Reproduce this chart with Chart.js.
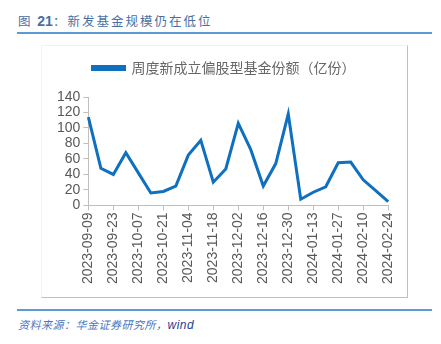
<!DOCTYPE html>
<html>
<head>
<meta charset="utf-8">
<script src="https://cdn.jsdelivr.net/npm/chart.js@4.4.1/dist/chart.umd.min.js"></script>
<style>
  html, body { margin: 0; padding: 0; background: #fff; }
  body { width: 441px; height: 344px; position: relative; overflow: hidden; }
  .title {
    position: absolute; left: 18px; top: 11px;
    font: 12.5px "Noto Sans CJK SC", sans-serif; color: #4a6f9f; letter-spacing: 2px;
  }
  .rule { position: absolute; left: 17px; width: 415px; height: 2px; background: #5b9bd5; }
  .frame {
    position: absolute; left: 41px; top: 45px; width: 365px; height: 251px;
    border-left: 1px solid #f2f2f2; border-top: 1px solid #f2f2f2;
    border-right: 1px solid #bfbfbf; border-bottom: 1px solid #bfbfbf;
  }
  .src {
    position: absolute; left: 18px; top: 316px;
    font: italic 11px "Noto Sans CJK SC", sans-serif; color: #4a76c0; letter-spacing: 0.5px;
  }
  #c { position: absolute; left: 42px; top: 46px; }
</style>
</head>
<body>
<div class="title">图 <b style="font-family:'Liberation Sans',sans-serif;font-size:14px;letter-spacing:0">21</b>：新发基金规模仍在低位</div>
<div class="rule" style="top:32px"></div>
<div class="frame"></div>
<canvas id="c" width="365" height="251"></canvas>
<div class="rule" style="top:309px"></div>
<div class="src">资料来源：华金证券研究所，<span style="font-family:'Liberation Sans',sans-serif;font-size:12px;color:#1f3f8f">wind</span></div>
<script>
const weeks = [
  "2023-09-09", "2023-09-16", "2023-09-23", "2023-09-30", "2023-10-07", "2023-10-14",
  "2023-10-21", "2023-10-28", "2023-11-04", "2023-11-11", "2023-11-18", "2023-11-25",
  "2023-12-02", "2023-12-09", "2023-12-16", "2023-12-23", "2023-12-30", "2024-01-06",
  "2024-01-13", "2024-01-20", "2024-01-27", "2024-02-03", "2024-02-10", "2024-02-17",
  "2024-02-24"
];
const newFundShares = [
  114, 48, 40, 68, 42, 16, 18, 25, 65, 84, 30, 47,
  106, 72, 25, 54, 118, 8, 17, 24, 55, 56, 33, 19, 5
];
const yTicks = [0, 20, 40, 60, 80, 100, 120, 140];
const seriesName = "周度新成立偏股型基金份额（亿份）";

const blue = "#1070c0";
const grey = "#595959";
const axisGrey = "#bfbfbf";

// extra room under the legend
const legendGap = {
  id: "legendGap",
  beforeInit(chart) {
    const fit = chart.legend.fit;
    chart.legend.fit = function () {
      fit.bind(chart.legend)();
      this.height += 12;
    };
  },
};

new Chart(document.getElementById("c").getContext("2d"), {
  type: "line",
  data: {
    labels: weeks,
    datasets: [{
      label: seriesName,
      data: newFundShares,
      borderColor: blue,
      backgroundColor: blue,
      borderWidth: 3,
      pointRadius: 0,
      tension: 0,
    }],
  },
  plugins: [legendGap],
  options: {
    responsive: false,
    animation: false,
    devicePixelRatio: 1,
    layout: { padding: { left: 12, right: 13, top: 5, bottom: 11 } },
    plugins: {
      tooltip: { enabled: false },
      legend: {
        labels: {
          boxWidth: 32,
          boxHeight: 3,
          color: "#666666",
          font: { family: "'Noto Sans CJK SC'", size: 14 },
          padding: 10,
        },
      },
    },
    scales: {
      x: {
        offset: false,
        border: { color: axisGrey },
        grid: { drawOnChartArea: false, drawTicks: true, tickLength: 5, color: axisGrey },
        ticks: {
          autoSkip: false,
          maxRotation: 90,
          minRotation: 90,
          color: grey,
          padding: 2,
          font: { family: "'Liberation Sans'", size: 14 },
          callback: function (v, i) { return i % 2 === 0 ? weeks[i] : null; },
        },
      },
      y: {
        min: 0,
        max: 140,
        border: { color: axisGrey },
        grid: { drawOnChartArea: false, drawTicks: true, tickLength: 5, color: axisGrey },
        afterBuildTicks: function (axis) { axis.ticks = yTicks.map(v => ({ value: v })); },
        ticks: {
          autoSkip: false,
          color: grey,
          padding: 3,
          font: { family: "'Liberation Sans'", size: 14 },
        },
      },
    },
  },
});
</script>
</body>
</html>
